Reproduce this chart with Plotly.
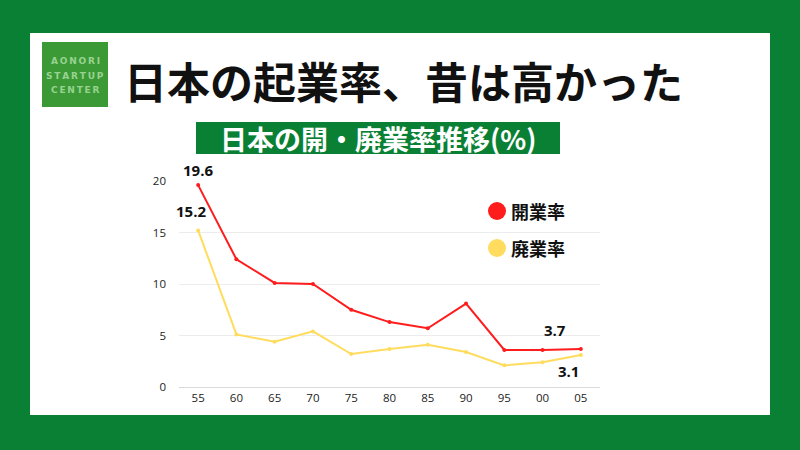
import plotly.graph_objects as go

years = ["55", "60", "65", "70", "75", "80", "85", "90", "95", "00", "05"]
open_rate = [19.6, 12.4, 10.1, 10.0, 7.5, 6.3, 5.7, 8.1, 3.6, 3.6, 3.7]
close_rate = [15.2, 5.1, 4.4, 5.4, 3.2, 3.7, 4.1, 3.4, 2.1, 2.4, 3.1]
y_ticks = [0, 5, 10, 15, 20]
logo_lines = ["AONORI", "STARTUP", "CENTER"]

RED = "#ff1c1c"
YELLOW = "#ffdc5e"
GREEN = "#0a8034"
W, H = 800, 450

def px(x):
    return x / W

def py(y):
    return 1 - y / H

fig = go.Figure()
fig.add_trace(go.Scatter(x=years, y=open_rate, mode="lines+markers", name="開業率",
                         line=dict(color=RED, width=2), marker=dict(size=4, color=RED)))
fig.add_trace(go.Scatter(x=years, y=close_rate, mode="lines+markers", name="廃業率",
                         line=dict(color=YELLOW, width=2), marker=dict(size=4, color=YELLOW)))

shapes = [
    dict(type="rect", xref="paper", yref="paper", x0=px(30), x1=px(770), y0=py(415), y1=py(33),
         fillcolor="white", line=dict(width=0), layer="below"),
    dict(type="rect", xref="paper", yref="paper", x0=px(42), x1=px(108), y0=py(107), y1=py(42),
         fillcolor="#3b9a36", line=dict(width=0)),
    dict(type="rect", xref="paper", yref="paper", x0=px(196), x1=px(560), y0=py(154), y1=py(122),
         fillcolor=GREEN, line=dict(width=0)),
    dict(type="circle", xref="paper", yref="paper", x0=px(488), x1=px(506), y0=py(220), y1=py(202),
         fillcolor=RED, line=dict(width=0)),
    dict(type="circle", xref="paper", yref="paper", x0=px(488), x1=px(506), y0=py(257), y1=py(239),
         fillcolor=YELLOW, line=dict(width=0)),
]

CJK = "Noto Sans CJK JP"
NUM = "Open Sans"
annotations = [
    dict(text="<b>日本の起業率、昔は高かった</b>", x=px(403), y=py(80), xref="paper", yref="paper",
         showarrow=False, font=dict(family=CJK, size=43, color="#111111"), xanchor="center", yanchor="middle"),
    dict(text="<b>日本の開・廃業率推移(%)</b>", x=px(378), y=py(138), xref="paper", yref="paper",
         showarrow=False, font=dict(family=CJK, size=27, color="white"), xanchor="center", yanchor="middle"),
    dict(text="<b>開業率</b>", x=px(509), y=py(211), xref="paper", yref="paper", showarrow=False,
         font=dict(family=CJK, size=18, color="#111111"), xanchor="left", yanchor="middle"),
    dict(text="<b>廃業率</b>", x=px(509), y=py(248), xref="paper", yref="paper", showarrow=False,
         font=dict(family=CJK, size=18, color="#111111"), xanchor="left", yanchor="middle"),
    dict(text="<b>%.1f</b>" % open_rate[0], x=0, y=open_rate[0], xref="x", yref="y",
         showarrow=False, yshift=15, font=dict(family=NUM, size=15, color="#111111")),
    dict(text="<b>%.1f</b>" % close_rate[0], x=0, y=close_rate[0], xref="x", yref="y",
         showarrow=False, yshift=19, xshift=-7, font=dict(family=NUM, size=15, color="#111111")),
    dict(text="<b>%.1f</b>" % open_rate[-1], x=len(years) - 1, y=open_rate[-1], xref="x", yref="y",
         showarrow=False, yshift=19, xshift=-26, font=dict(family=NUM, size=15, color="#111111")),
    dict(text="<b>%.1f</b>" % close_rate[-1], x=len(years) - 1, y=close_rate[-1], xref="x", yref="y",
         showarrow=False, yshift=-16, xshift=-12, font=dict(family=NUM, size=15, color="#111111")),
]
for i, line in enumerate(logo_lines):
    spaced = "\u2009".join(line)
    annotations.append(dict(text="<b>%s</b>" % spaced, x=px(75), y=py(61 + 14.5 * i), xref="paper", yref="paper",
                            showarrow=False, font=dict(family="DejaVu Sans", size=9, color="#98d392"),
                            xanchor="center", yanchor="middle"))

fig.update_layout(
    width=W, height=H,
    margin=dict(l=0, r=0, t=0, b=0, autoexpand=False),
    paper_bgcolor=GREEN,
    plot_bgcolor="rgba(0,0,0,0)",
    showlegend=False,
    shapes=shapes,
    annotations=annotations,
    xaxis=dict(domain=[px(179), px(600)], type="category", range=[-0.5, 10.5], automargin=False,
               showgrid=False, showline=True, linecolor="#d9d9d9", linewidth=1,
               ticks="", tickfont=dict(family=NUM, size=11.5, color="#222222"), zeroline=False),
    yaxis=dict(domain=[py(387), py(181)], range=[0, 20], tickvals=y_ticks, automargin=False,
               showgrid=True, gridcolor="#ececec", gridwidth=1, zeroline=False,
               showline=False, ticks="", ticklabelstandoff=12,
               tickfont=dict(family=NUM, size=11.5, color="#222222")),
)

fig.write_html("out.html")
